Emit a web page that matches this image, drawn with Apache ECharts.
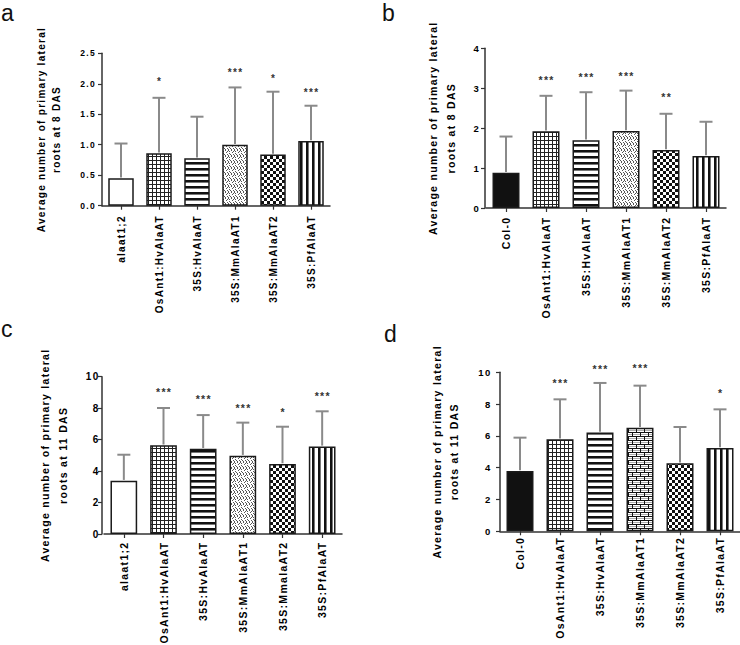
<!DOCTYPE html>
<html>
<head>
<meta charset="utf-8">
<script src="https://cdn.jsdelivr.net/npm/echarts@6/dist/echarts.min.js"></script>
<style>
html,body{margin:0;padding:0;background:#fff;}
#chart{width:740px;height:645px;}
#chart text{letter-spacing:1.3px;}
</style>
</head>
<body>
<div id="chart"></div>
<script>
// ---- data ----
const catsA = ['alaat1;2','OsAnt1:HvAlaAT','35S:HvAlaAT','35S:MmAlaAT1','35S:MmAlaAT2','35S:PfAlaAT'];
const catsB = ['Col-0','OsAnt1:HvAlaAT','35S:HvAlaAT','35S:MmAlaAT1','35S:MmAlaAT2','35S:PfAlaAT'];
const catsC = ['alaat1;2','OsAnt1:HvAlaAT','35S:HvAlaAT','35S:MmAlaAT1','35S:MmalaAT2','35S:PfAlaAT'];
const catsD = ['Col-0','OsAnt1:HvAlaAT','35S:HvAlaAT','35S:MmAlaAT1','35S:MmAlaAT2','35S:PfAlaAT'];

const meansA = [0.45, 0.86, 0.78, 1.00, 0.84, 1.06];
const sdA    = [0.57, 0.91, 0.68, 0.94, 1.03, 0.58];
const meansB = [0.88, 1.92, 1.70, 1.93, 1.45, 1.30];
const sdB    = [0.91, 0.89, 1.20, 1.01, 0.91, 0.86];
const meansC = [3.39, 5.64, 5.42, 4.98, 4.45, 5.57];
const sdC    = [1.65, 2.37, 2.14, 2.10, 2.37, 2.23];
const meansD = [3.79, 5.79, 6.21, 6.52, 4.28, 5.24];
const sdD    = [2.10, 2.51, 3.12, 2.64, 2.28, 2.43];

const starsA = ['', '*', '', '***', '*', '***'];
const starPosA = [null, 2.08, null, 2.22, 2.13, 1.90];
const starsB = ['', '***', '***', '***', '**', ''];
const starPosB = [null, 3.27, 3.33, 3.36, 2.83, null];
const starsC = ['', '***', '***', '***', '*', '***'];
const starPosC = [null, 9.15, 8.73, 8.14, 7.93, 8.94];
const starsD = ['', '***', '***', '***', '', '*'];
const starPosD = [null, 9.47, 10.35, 10.40, null, 8.82];

const yTitle1 = 'Average number of primary lateral';
const yTitle8 = 'roots at 8 DAS';
const yTitle11 = 'roots at 11 DAS';

// ---- patterns (styles) ----
function pat(w, h, draw) {
  const c = document.createElement('canvas');
  c.width = w; c.height = h;
  const g = c.getContext('2d');
  g.fillStyle = '#ffffff'; g.fillRect(0, 0, w, h);
  draw(g);
  return { image: c, repeat: 'repeat', imageWidth: w, imageHeight: h };
}
const P = {
  white: '#ffffff',
  black: '#111111',
  grid: pat(4, 4, g => { g.fillStyle = '#222'; g.fillRect(0, 0, 4, 1); g.fillRect(0, 0, 1, 4); }),
  hstripe: pat(6, 6, g => { g.fillStyle = '#111'; g.fillRect(0, 0, 6, 2); g.fillStyle = '#777'; g.fillRect(0, 2, 6, 1); }),
  vstripe: pat(6, 6, g => { g.fillStyle = '#111'; g.fillRect(0, 0, 2, 6); g.fillStyle = '#777'; g.fillRect(2, 0, 1, 6); }),
  checker: pat(6, 6, g => { g.fillStyle = '#111'; g.fillRect(0, 0, 3, 3); g.fillRect(3, 3, 3, 3); }),
  stipple: pat(6, 6, g => {
    g.fillStyle = '#555';
    [[0,0],[3,0],[1,1],[4,2],[1,3],[2,4],[5,4],[0,5],[3,5],[5,1]].forEach(p => g.fillRect(p[0], p[1], 1, 1));
  }),
  brick: pat(8, 8, g => {
    g.fillStyle = '#aaa'; g.fillRect(0, 2, 8, 1); g.fillRect(0, 6, 8, 1);
    g.fillStyle = '#111'; g.fillRect(0, 0, 8, 1); g.fillRect(0, 4, 8, 1);
    g.fillRect(0, 0, 1, 4); g.fillRect(4, 4, 1, 4);
  })
};
const fillsA = [P.white, P.grid, P.hstripe, P.stipple, P.checker, P.vstripe];
const fillsB = [P.black, P.grid, P.hstripe, P.stipple, P.checker, P.vstripe];
const fillsC = [P.white, P.grid, P.hstripe, P.stipple, P.checker, P.vstripe];
const fillsD = [P.black, P.grid, P.hstripe, P.brick, P.checker, P.vstripe];

const FONT = 'Liberation Sans';
const TXT = '#000000';
const AX = '#333333';

// ---- layout per panel ----
const panels = [
  { cats: catsA, means: meansA, sd: sdA, stars: starsA, starPos: starPosA, fills: fillsA,
    grid: { left: 102, top: 53.3, width: 228, height: 152.4 }, yOffset: 0,
    max: 2.5, interval: 0.5, fmt: v => v.toFixed(1), tickFont: 8.5, labelMargin: 6,
    catFont: 10, catMargin: 9.5, barWidth: 25.5, title: yTitle1 + '\n' + yTitle8,
    titleFont: 10, titleLH: 15, nameGap: 38, starFont: 10 },
  { cats: catsB, means: meansB, sd: sdB, stars: starsB, starPos: starPosB, fills: fillsB,
    grid: { left: 486, top: 48.3, width: 240, height: 159.7 }, yOffset: 1,
    max: 4, interval: 1, fmt: v => String(v), tickFont: 9.5, labelMargin: 5,
    catFont: 10.5, catMargin: 8.5, barWidth: 27, title: yTitle1 + '\n' + yTitle8,
    titleFont: 10.5, titleLH: 18, nameGap: 25, starFont: 10.5 },
  { cats: catsC, means: meansC, sd: sdC, stars: starsC, starPos: starPosC, fills: fillsC,
    grid: { left: 104, top: 376.7, width: 238, height: 157.3 }, yOffset: 2,
    max: 10, interval: 2, fmt: v => String(v), tickFont: 10, labelMargin: 2.5,
    catFont: 10.5, catMargin: 7.5, barWidth: 26.7, title: yTitle1 + '\n' + yTitle11,
    titleFont: 10.5, titleLH: 17.7, nameGap: 30.5, starFont: 10.5 },
  { cats: catsD, means: meansD, sd: sdD, stars: starsD, starPos: starPosD, fills: fillsD,
    grid: { left: 500, top: 372.3, width: 240, height: 159 }, yOffset: 0,
    max: 10, interval: 2, fmt: v => String(v), tickFont: 9.5, labelMargin: 8.5,
    catFont: 10.5, catMargin: 5.5, barWidth: 27, title: yTitle1 + '\n' + yTitle11,
    titleFont: 10.5, titleLH: 16.7, nameGap: 38, starFont: 10.5 }
];

const grids = [], xAxes = [], yAxes = [], series = [];
panels.forEach((p, gi) => {
  grids.push(Object.assign({ containLabel: false, outerBoundsMode: 'none' }, p.grid));
  xAxes.push({
    type: 'category', gridIndex: gi, data: p.cats,
    axisLine: { show: true, lineStyle: { color: AX, width: 1.5 } },
    axisTick: { show: true, alignWithLabel: true, length: 4, lineStyle: { color: AX, width: 1.2 } },
    axisLabel: { interval: 0, rotate: 90, margin: p.catMargin, fontSize: p.catFont, fontWeight: 'bold',
                 color: TXT, fontFamily: FONT, hideOverlap: false },
    splitLine: { show: false }
  });
  yAxes.push({
    type: 'value', gridIndex: gi, min: 0, max: p.max, interval: p.interval, offset: p.yOffset,
    axisLine: { show: true, lineStyle: { color: AX, width: 1.5 } },
    axisTick: { show: true, length: 4, lineStyle: { color: AX, width: 1.2 } },
    axisLabel: { formatter: p.fmt, fontSize: p.tickFont, fontWeight: 'bold', color: TXT,
                 fontFamily: FONT, margin: p.labelMargin },
    splitLine: { show: false },
    name: p.title, nameLocation: 'middle', nameRotate: 90, nameGap: p.nameGap,
    nameMoveOverlap: false,
    nameTextStyle: { fontSize: p.titleFont, lineHeight: p.titleLH, fontWeight: 'bold',
                     color: TXT, fontFamily: FONT, align: 'center' }
  });
  series.push({
    type: 'bar', xAxisIndex: gi, yAxisIndex: gi, barWidth: p.barWidth, z: 2,
    data: p.means.map((m, i) => ({ value: m, itemStyle: { color: p.fills[i] } })),
    itemStyle: { borderColor: '#1a1a1a', borderWidth: 1.5 },
    emphasis: { disabled: true }
  });
  series.push({
    type: 'custom', xAxisIndex: gi, yAxisIndex: gi, z: 3, clip: false,
    data: p.means.map((m, i) => [i, m, m + p.sd[i]]),
    renderItem: (params, api) => {
      const b = api.coord([api.value(0), api.value(1)]);
      const t = api.coord([api.value(0), api.value(2)]);
      const hw = 6.5;
      return { type: 'group', children: [
        { type: 'line', shape: { x1: b[0], y1: b[1] - 0.75, x2: b[0], y2: t[1] }, style: { stroke: '#8a8a8a', lineWidth: 2 } },
        { type: 'line', shape: { x1: b[0] - hw, y1: t[1], x2: b[0] + hw, y2: t[1] }, style: { stroke: '#8a8a8a', lineWidth: 2 } }
      ]};
    }
  });
  series.push({
    type: 'custom', xAxisIndex: gi, yAxisIndex: gi, z: 4, clip: false,
    data: p.starPos.map((v, i) => [i, v == null ? 0 : v]),
    renderItem: (params, api) => {
      const lbl = p.stars[params.dataIndex];
      if (!lbl) return null;
      const pt = api.coord([api.value(0), api.value(1)]);
      return { type: 'text', x: pt[0] + 0.65, y: pt[1] + 2.4,
        style: { text: lbl, align: 'center', verticalAlign: 'middle', textAlign: 'center', textVerticalAlign: 'middle',
                 font: 'bold ' + p.starFont + 'px "' + FONT + '"', fill: '#333333' } };
    }
  });
});

const letterStyle = (t) => ({ text: t, font: '23px "' + FONT + '"', fill: '#111',
  align: 'left', verticalAlign: 'middle', textAlign: 'left', textVerticalAlign: 'middle' });

const option = {
  animation: false,
  backgroundColor: '#ffffff',
  textStyle: { fontFamily: FONT },
  grid: grids, xAxis: xAxes, yAxis: yAxes, series: series,
  graphic: [
    { type: 'text', x: 1, y: 12.5, style: letterStyle('a') },
    { type: 'text', x: 382, y: 12.5, style: letterStyle('b') },
    { type: 'text', x: 1, y: 329, style: letterStyle('c') },
    { type: 'text', x: 384, y: 334, style: letterStyle('d') }
  ]
};

const chart = echarts.init(document.getElementById('chart'), null, { renderer: 'svg' });
chart.setOption(option);
</script>
</body>
</html>
